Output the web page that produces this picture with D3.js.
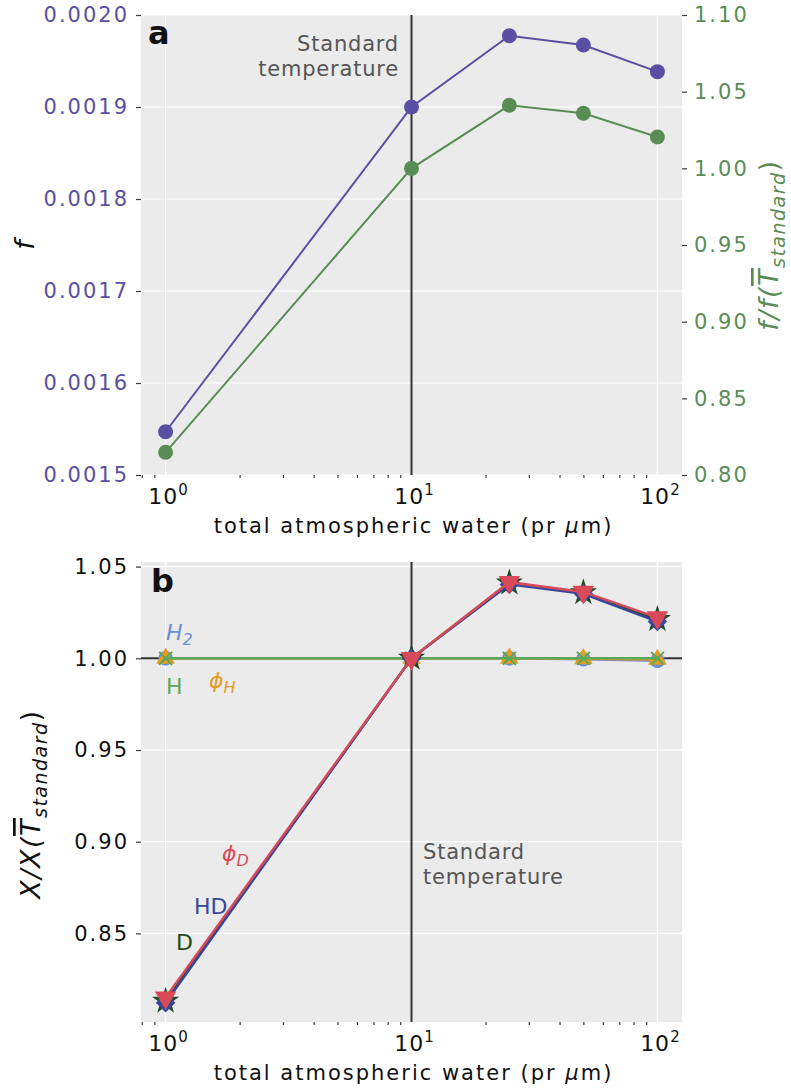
<!DOCTYPE html>
<html>
<head>
<meta charset="utf-8">
<script src="https://cdn.jsdelivr.net/npm/d3@7"></script>
<style>
  body { margin: 0; background: #fff; }
  text { font-family: "DejaVu Sans", sans-serif; }
</style>
</head>
<body>
<div id="chart"></div>
<script>
// values
var water = [1, 10, 25, 50, 100];
var fValues = [0.001547, 0.0019, 0.0019775, 0.0019674, 0.0019384];
var fRatio = [0.8148, 1.0, 1.0411, 1.0359, 1.0204];

var phiD = [0.8150, 1.0, 1.0415, 1.0362, 1.0222];
var hdRatio = [0.8122, 1.0, 1.0403, 1.0352, 1.0200];
var dRatio = [0.8131, 1.0, 1.0411, 1.0358, 1.0212];
var h2Ratio = [1.0, 1.0, 1.0, 0.9995, 0.9987];
var hRatio = [1.0, 1.0, 1.0, 1.0, 1.0];
var phiH = [1.0, 1.0, 1.0, 0.9997, 0.9994];

var xTicks = [1, 10, 100];
var fTicks = [0.0015, 0.0016, 0.0017, 0.0018, 0.0019, 0.0020];
var ratioTicks = [0.80, 0.85, 0.90, 0.95, 1.00, 1.05, 1.10];
var bTicks = [0.85, 0.90, 0.95, 1.00, 1.05];

var width = 791, height = 1092;
var left = 141, right = 682;
var topA = 15, bottomA = 475;
var topB = 562, bottomB = 1022;

var purple = "#5a4fa2", greenA = "#5a8d55";
var tickColor = "#3a3a3a";

var svg = d3.select("#chart").append("svg")
    .attr("width", width)
    .attr("height", height);

var x = d3.scaleLog().domain([Math.pow(10, -0.1), Math.pow(10, 2.1)]).range([left, right]);
var yF = d3.scaleLinear().domain([0.0015, 0.0020]).range([bottomA, topA]);
var yR = d3.scaleLinear().domain([0.80, 1.10]).range([bottomA, topA]);
var yB = d3.scaleLinear().domain([0.8017, 1.0525]).range([bottomB, topB]);

// minor ticks for the log axis
var xMinor = [];
[0.1, 1, 10].forEach(function(dec){
  for (var k = 2; k <= 9; k++) {
    var v = dec * k;
    if (v >= x.domain()[0] && v <= x.domain()[1]) xMinor.push(v);
  }
});

function background(top, bottom, yScale, yTicks){
  svg.append("rect")
    .attr("x", left).attr("y", top)
    .attr("width", right - left).attr("height", bottom - top)
    .attr("fill", "#ebebeb");
  svg.append("g").selectAll("line").data(yTicks).join("line")
    .attr("x1", left).attr("x2", right)
    .attr("y1", d => yScale(d)).attr("y2", d => yScale(d))
    .attr("stroke", "#fff").attr("stroke-width", 1.2);
  svg.append("g").selectAll("line").data(xTicks).join("line")
    .attr("x1", d => x(d)).attr("x2", d => x(d))
    .attr("y1", top).attr("y2", bottom)
    .attr("stroke", "#fff").attr("stroke-width", 1.2);
}

function xAxis(bottom){
  var g = svg.append("g").attr("transform", "translate(0," + bottom + ")");
  g.call(d3.axisBottom(x).tickValues(xTicks).tickSize(5).tickFormat(""));
  g.call(d3.axisBottom(x).tickValues(xMinor).tickSize(3).tickFormat(""));
  g.selectAll(".domain").remove();
  g.selectAll(".tick line").attr("stroke", tickColor).attr("stroke-width", 1.2);
  // 10^n labels
  var lab = g.selectAll(".xlab").data(xTicks).join("text")
    .attr("class", "xlab")
    .attr("x", d => x(d) + 3)
    .attr("y", 29)
    .attr("text-anchor", "middle")
    .attr("font-size", 22)
    .attr("letter-spacing", 1)
    .attr("fill", "#111");
  lab.append("tspan").text("10");
  lab.append("tspan").attr("dy", -9).attr("font-size", 15).text(d => Math.round(Math.log10(d)));
  var t = svg.append("text")
    .attr("x", (left + right) / 2 + 2)
    .attr("y", bottom + 58)
    .attr("text-anchor", "middle")
    .attr("font-size", 21)
    .attr("letter-spacing", 2)
    .attr("fill", "#111");
  t.append("tspan").text("total atmospheric water (pr ");
  t.append("tspan").attr("font-style", "italic").text("\u03bc");
  t.append("tspan").text("m)");
}

function yAxis(g, axis, color){
  g.call(axis);
  g.selectAll(".domain").remove();
  g.selectAll(".tick line").attr("stroke", tickColor).attr("stroke-width", 1.2);
  g.selectAll(".tick text").attr("fill", color).attr("font-size", 21)
    .attr("font-family", "DejaVu Sans").attr("letter-spacing", 2);
}

function ratioLabel(g, first, color){
  var t = g.append("text")
    .attr("text-anchor", "middle")
    .attr("font-size", 27)
    .attr("font-style", "italic")
    .attr("letter-spacing", 1.5)
    .attr("fill", color);
  t.append("tspan").text(first);
  t.append("tspan").style("text-decoration", "overline").text("T");
  t.append("tspan").attr("dy", 7).attr("font-size", 19).text("standard");
  t.append("tspan").attr("dy", -7).attr("font-style", "normal").text(")");
}

// ---------------- panel a ----------------
background(topA, bottomA, yF, fTicks);

svg.append("line")
  .attr("x1", x(10)).attr("x2", x(10))
  .attr("y1", topA).attr("y2", bottomA)
  .attr("stroke", "#333").attr("stroke-width", 2);

svg.append("text")
  .attr("text-anchor", "end").attr("font-size", 21).attr("fill", "#555")
  .attr("letter-spacing", 0.8)
  .selectAll("tspan").data(["Standard", "temperature"]).join("tspan")
  .attr("x", 399).attr("y", (d, i) => 51 + i * 25)
  .text(d => d);

var lineF = d3.line().x((d, i) => x(water[i])).y(d => yF(d));
var lineR = d3.line().x((d, i) => x(water[i])).y(d => yR(d));

svg.append("path").attr("d", lineF(fValues))
  .attr("fill", "none").attr("stroke", purple).attr("stroke-width", 2);
svg.append("g").selectAll("circle").data(fValues).join("circle")
  .attr("cx", (d, i) => x(water[i])).attr("cy", d => yF(d))
  .attr("r", 7.5).attr("fill", purple);

svg.append("path").attr("d", lineR(fRatio))
  .attr("fill", "none").attr("stroke", greenA).attr("stroke-width", 2);
svg.append("g").selectAll("circle").data(fRatio).join("circle")
  .attr("cx", (d, i) => x(water[i])).attr("cy", d => yR(d))
  .attr("r", 7.5).attr("fill", greenA);

yAxis(svg.append("g").attr("transform", "translate(" + left + ",0)"),
  d3.axisLeft(yF).tickValues(fTicks).tickSize(5).tickPadding(7).tickFormat(d3.format(".4f")), purple);

var gr = svg.append("g").attr("transform", "translate(" + right + ",0)");
gr.call(d3.axisRight(yR).tickValues(d3.range(80, 111).map(d => d / 100)).tickSize(3).tickFormat(""));
yAxis(gr, d3.axisRight(yR).tickValues(ratioTicks).tickSize(5).tickPadding(7).tickFormat(d3.format(".2f")), greenA);

xAxis(bottomA);

svg.append("text").attr("x", 148).attr("y", 44)
  .attr("font-size", 32).attr("font-weight", "bold").attr("fill", "#111").text("a");

svg.append("text")
  .attr("transform", "translate(34," + (topA + bottomA) / 2 + ") rotate(-90)")
  .attr("text-anchor", "middle").attr("font-size", 27).attr("font-style", "italic")
  .attr("fill", "#111").text("f");

ratioLabel(svg.append("g").attr("transform", "translate(778," + (topA + bottomA) / 2 + ") rotate(-90)"), "f/f(", greenA);

// ---------------- panel b ----------------
background(topB, bottomB, yB, bTicks);

svg.append("line")
  .attr("x1", x(10)).attr("x2", x(10))
  .attr("y1", topB).attr("y2", bottomB)
  .attr("stroke", "#333").attr("stroke-width", 2);
svg.append("line")
  .attr("x1", left).attr("x2", right)
  .attr("y1", yB(1)).attr("y2", yB(1))
  .attr("stroke", "#333").attr("stroke-width", 2);

svg.append("text")
  .attr("font-size", 21).attr("fill", "#555")
  .attr("letter-spacing", 0.8)
  .selectAll("tspan").data(["Standard", "temperature"]).join("tspan")
  .attr("x", 423).attr("y", (d, i) => 859 + i * 25)
  .text(d => d);

var lineB = d3.line().x((d, i) => x(water[i])).y(d => yB(d));

var series = [
  {values: h2Ratio, color: "#6b8fd6", symbol: d3.symbolCircle, size: 170, rotate: 0},
  {values: phiH, color: "#e69a1f", symbol: d3.symbolTriangle, size: 150, rotate: 0},
  {values: hRatio, color: "#5aa85a", symbol: d3.symbolX, size: 110, rotate: 0, stroke: true},
  {values: dRatio, color: "#1f4a26", symbol: d3.symbolStar, size: 230, rotate: 0},
  {values: hdRatio, color: "#36479a", symbol: d3.symbolSquare, size: 190, rotate: 45},
  {values: phiD, color: "#d94a58", symbol: d3.symbolTriangle, size: 200, rotate: 180}
];

series.forEach(function(s){
  svg.append("path").attr("d", lineB(s.values))
    .attr("fill", "none").attr("stroke", s.color).attr("stroke-width", 2.5);
  svg.append("g").selectAll("path").data(s.values).join("path")
    .attr("transform", (d, i) => "translate(" + x(water[i]) + "," + yB(d) + ") rotate(" + s.rotate + ")")
    .attr("d", d3.symbol(s.symbol, s.size))
    .attr("fill", s.stroke ? "none" : s.color)
    .attr("stroke", s.stroke ? s.color : "none")
    .attr("stroke-width", 2);
});

yAxis(svg.append("g").attr("transform", "translate(" + left + ",0)"),
  d3.axisLeft(yB).tickValues(bTicks).tickSize(5).tickPadding(7).tickFormat(d3.format(".2f")), "#111");

xAxis(bottomB);

svg.append("text").attr("x", 151).attr("y", 592)
  .attr("font-size", 32).attr("font-weight", "bold").attr("fill", "#111").text("b");

ratioLabel(svg.append("g").attr("transform", "translate(40," + ((topB + bottomB) / 2 + 12) + ") rotate(-90)"), "X/X(", "#111");

// series labels
function label(xp, yp, main, sub, color, italic){
  var t = svg.append("text").attr("x", xp).attr("y", yp)
    .attr("font-size", 22).attr("fill", color)
    .attr("font-style", italic ? "italic" : "normal");
  t.append("tspan").text(main);
  if (sub) t.append("tspan").attr("dy", 5).attr("font-size", 16).text(sub);
}
label(166, 640, "H", "2", "#6b8fd6", true);
label(166, 694, "H", null, "#5aa85a", false);
label(209, 688, "\u03d5", "H", "#e69a1f", true);
label(222, 861, "\u03d5", "D", "#d94a58", true);
label(194, 914, "HD", null, "#36479a", false);
label(176, 950, "D", null, "#1f4a26", false);
</script>
</body>
</html>
